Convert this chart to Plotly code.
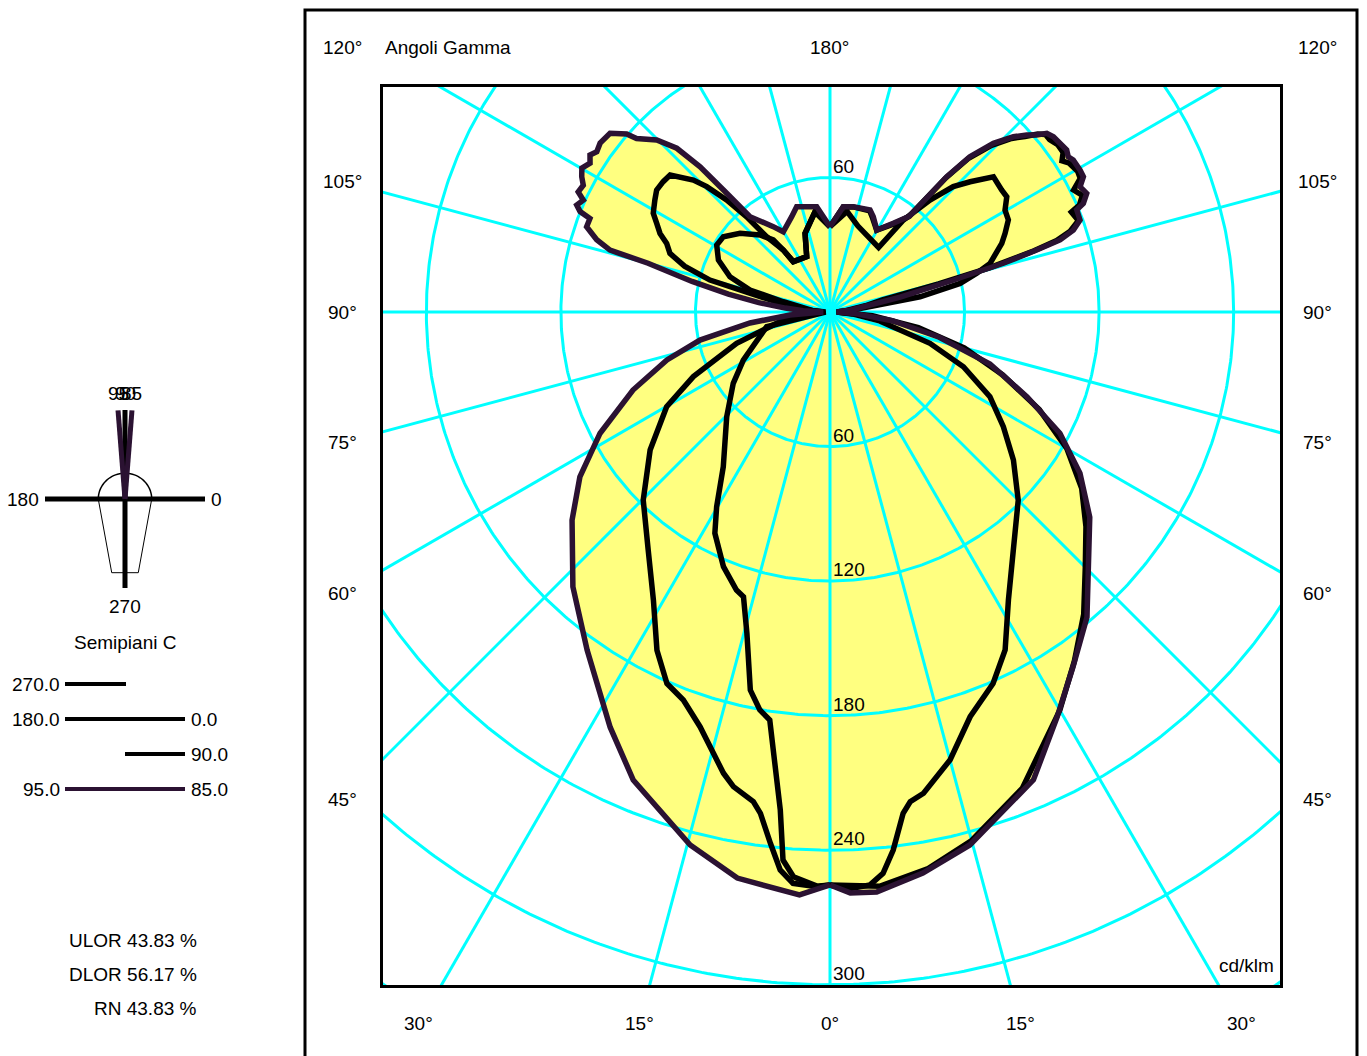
import numpy as np
import plotly.graph_objects as go

# ---------------- data (cd/klm vs gamma angle, per C half-plane) ----------------
c95_gamma = [0, 3, 9.3, 14.7, 22.8, 27.9, 35.7, 43.1, 51.1, 56.6, 62.2, 68.4, 73.6, 77.8, 82.2, 85.7,
             90, 92.5, 95, 97.5, 100, 102.5, 105, 105.7, 107.2, 109.3, 111.3, 111.9, 112.9, 114.4,
             115.5, 117.2, 118.6, 120.1, 121.8, 123.2, 124.5, 126.3, 129.1, 131.2, 131.9, 134.8,
             136.9, 138.2, 139, 140, 146.4, 149.8, 158.1, 162.4, 172.8, 180]
c95_cd = [255.5, 260.3, 255.8, 245.7, 226.4, 209.5, 185.6, 167.8, 147.8, 133.6, 115.9, 94.5, 75.8, 59.3, 36, 17.9,
          3, 12, 20, 32, 46, 63, 84, 101.9, 108.9, 115, 114.9, 120.1, 122.6, 120.8,
          124.4, 123.7, 126.1, 127.9, 125.9, 127.9, 126.2, 127.2, 126.4, 120.5, 115.9, 108.9,
          100, 86.9, 70.2, 55.5, 45.7, 41.4, 45.8, 49.2, 47.3, 38]

c85_gamma = [0, 2, 4.6, 9.4, 14.7, 23.5, 29.3, 34.4, 40.1, 45.3, 51.7, 57.2, 62.2, 66.7, 72, 77, 82, 86,
             90, 95, 100, 102, 104.5, 105.7, 106.7, 107.4, 108.6, 110.2, 112.5, 113.2, 114.8, 116.6,
             118.1, 119.6, 122, 123.1, 124.4, 126.3, 128.1, 129.5, 130.6, 132, 133.7, 135.9, 138,
             139.2, 139.7, 140.3, 144.5, 150.3, 155.6, 158.6, 167.5, 172.8, 180]
c85_cd = [255.5, 259.2, 259.5, 253.6, 245.7, 227.5, 207, 191.8, 177.9, 161.8, 147.6, 132.6, 115.9, 95.7, 75, 50, 28, 12,
          3, 9, 20, 32, 57, 80.3, 96.2, 107.5, 114.5, 118.8, 119.1, 122.9, 126.1, 124.7,
          128.1, 128.2, 127.9, 126.8, 127.9, 127.2, 126.6, 125.3, 121.3, 118, 113.1, 104.7, 93.2,
          79.7, 67.1, 55.5, 48.6, 42.1, 46.7, 48.9, 48.1, 47.3, 38]

c90_gamma = [0, 5, 10, 15, 22, 30, 35, 40, 45, 50, 55, 60, 65, 70, 75, 80, 85,
             90, 95, 100, 103, 104.5, 105.5, 106.7, 107.5, 108.6, 110.2, 112.5, 113.2, 114.8, 116.6,
             118.1, 119.6, 122, 123.1, 124.4, 126.3, 128.1, 129.5, 130.6, 132, 133.7, 135.9, 138,
             139.2, 139.8, 140.5, 144.5, 150.3, 155.6, 158.6, 167.5, 172.8, 180]
c90_cd = [255.5, 257, 252, 244, 229, 205, 190, 176, 161, 149, 137, 122, 103, 82, 62, 40, 19,
          3, 7, 16, 24, 50, 74, 95, 106, 113, 118, 116.5, 121, 124, 121.5,
          126.5, 127, 125.5, 123.5, 126, 126, 124.5, 124.5, 122, 117, 112, 103.5, 92,
          79, 66, 55, 48, 42, 46, 48.5, 48, 47.3, 38]

c0_gamma = [0, 1.7, 4, 5.4, 6.7, 8.3, 9.3, 11, 15, 19.1, 23.7, 27.4, 31.8, 37.6, 45, 51.1, 56.5,
            62.1, 67.7, 72.6, 80, 85, 90, 95, 97.5, 99.6, 102.4, 104.8, 106.9, 109.4, 111.8, 114.2,
            117.3, 120.2, 123.1, 125.4, 127.7, 129.6, 132.9, 135.5, 138.2, 141.4, 143, 151, 162,
            170.4, 180]
c0_cd = [255.5, 257.5, 256.1, 251.4, 241.6, 225.9, 221.3, 218.6, 206.8, 191, 180.9, 169.7, 151, 134, 118.7, 105.1, 92.7,
         80.7, 64.3, 46.7, 22, 10, 3, 10, 18, 40.7, 59.4, 67.7, 74.6, 78.8, 82.5, 85.6,
         89.5, 90.3, 94.1, 93.9, 93.9, 94.6, 85.3, 78.4, 66.9, 52.5, 36, 37, 40.3,
         45.5, 38]

c180_gamma = [0, 1.3, 3.7, 5.1, 6.4, 7.9, 8.9, 11.5, 13, 17.4, 20.7, 23.7, 27.1, 31.5, 37.4, 44.8,
              52.5, 59.9, 64.7, 71.5, 80.3, 85, 90, 95, 100, 102.3, 104.9, 107.5, 110.1, 112.8,
              114.8, 117.1, 119.2, 122.6, 125.1, 128, 130.6, 134, 135.5, 137.3, 138.8, 139.9,
              143, 143.9, 157.2, 162.4, 171.5, 180]
c180_cd = [255.5, 256.4, 255.3, 249.8, 238.4, 225.7, 221, 216, 211.1, 193.8, 185, 180.9, 169.4, 150.7, 133.5, 118.2,
           101.1, 84.2, 67.4, 43.9, 21.1, 10, 3, 10, 22, 32, 55.4, 68, 76, 79,
           83.5, 86.8, 90.3, 92.7, 94.5, 94.4, 93.9, 84.7, 78.4, 68, 56.4, 43.9,
           34.6, 27.8, 26.8, 36.8, 45.2, 38]

c270_gamma = [0, 1.3, 3.7, 4.9, 5.7, 6.5, 7.4, 8.4, 10, 11.9, 14.5, 16.9, 18.6, 22.7, 27.5, 30.2,
              34.6, 44.6, 53.6, 61, 76.9, 90, 95, 100, 102.4, 105.4, 109.4, 115, 120.6, 125.2,
              131.2, 137.7, 141.8, 143, 143.9, 157.2, 162.4, 171.5, 180]
c270_cd = [255.5, 256.1, 252.4, 245.3, 223.2, 210, 197, 183.9, 180.2, 172.3, 148, 132.7, 130.8, 123.1, 111.2, 100.5,
           83.8, 65.6, 53.6, 44.2, 29, 2, 8, 15, 21.3, 37, 47.3, 54.9, 58.7, 58.2,
           53.3, 46.4, 40.9, 34.6, 27.8, 26.8, 36.8, 45.2, 38]

for _g, _v in [(c95_gamma, c95_cd), (c85_gamma, c85_cd), (c90_gamma, c90_cd), (c0_gamma, c0_cd),
               (c180_gamma, c180_cd), (c270_gamma, c270_cd)]:
    if len(_g) != len(_v):
        raise ValueError(f"length mismatch {len(_g)} vs {len(_v)} starting {_g[:3]}")

circle_values = [60, 120, 180, 240, 300, 360]
circle_labels_bottom = [60, 120, 180, 240, 300]
circle_labels_top = [60]
side_gamma_labels = [45, 60, 75, 90, 105, 120]
bottom_gamma_labels = [0, 15, 30]
top_gamma_labels = [180]

icon_planes = [270, 180, 0, 90, 95, 85]
legend_left = ["270.0", "180.0", "", "95.0"]
legend_right = ["", "0.0", "90.0", "85.0"]
ratios = [("ULOR", 43.83), ("DLOR", 56.17), ("RN", 43.83)]

# ---------------- styling / layout ----------------
W, H = 1367, 1056
FONT = "Liberation Sans, Arial, Helvetica, sans-serif"
FS = 19
CYAN = "#00FFFF"
YELLOW = "#FFFF80"
PURPLE = "#2B1232"
BLACK = "#000000"

X0, X1, Y0, Y1 = 383, 1280, 87, 985
CX, CY = 830, 312
S = 2.2425
xr = [(X0 - CX) / S, (X1 - CX) / S]
yr = [(CY - Y1) / S, (CY - Y0) / S]


def pxx(x):
    return x / W


def pxy(y):
    return 1 - y / H


def dx2paper(x):
    return pxx(CX + x * S)


def dy2paper(y):
    return pxy(CY - y * S)


def to_xy(gam, cd, side):
    g = np.radians(np.asarray(gam, dtype=float))
    r = np.asarray(cd, dtype=float)
    return side * r * np.sin(g), -r * np.cos(g)


fig = go.Figure()

# yellow fill: right outer (C85) 0->180, then left outer (C95) 180->0
xr85, yr85 = to_xy(c85_gamma, c85_cd, 1)
xl95, yl95 = to_xy(c95_gamma, c95_cd, -1)
fx = np.concatenate([xr85, xl95[::-1]])
fy = np.concatenate([yr85, yl95[::-1]])
fig.add_trace(go.Scatter(x=fx, y=fy, mode="lines", fill="toself", fillcolor=YELLOW,
                         line=dict(width=0, color=YELLOW), hoverinfo="skip", showlegend=False))

# grid circles
t = np.linspace(0, 2 * np.pi, 721)
gx, gy = [], []
for r in circle_values:
    gx += list(r * np.cos(t)) + [None]
    gy += list(r * np.sin(t)) + [None]
fig.add_trace(go.Scatter(x=gx, y=gy, mode="lines", line=dict(color=CYAN, width=3),
                         hoverinfo="skip", showlegend=False))
# grid rays every 15 degrees
rx, ry = [], []
for a in range(0, 360, 15):
    ar = np.radians(a)
    rx += [0, 1000 * np.sin(ar), None]
    ry += [0, -1000 * np.cos(ar), None]
fig.add_trace(go.Scatter(x=rx, y=ry, mode="lines", line=dict(color=CYAN, width=3),
                         hoverinfo="skip", showlegend=False))

# photometric curves
curves = [
    (c270_gamma, c270_cd, -1, BLACK),
    (c180_gamma, c180_cd, -1, BLACK),
    (c0_gamma, c0_cd, 1, BLACK),
    (c90_gamma, c90_cd, 1, BLACK),
    (c95_gamma, c95_cd, -1, PURPLE),
    (c85_gamma, c85_cd, 1, PURPLE),
]
for gam, cd, side, col in curves:
    x, y = to_xy(gam, cd, side)
    fig.add_trace(go.Scatter(x=x, y=y, mode="lines", line=dict(color=col, width=5.5),
                             hoverinfo="skip", showlegend=False))

annotations = []


def ann(text, x, y, xref="paper", yref="paper", xanchor="center", yanchor="middle", xshift=0, yshift=0):
    annotations.append(dict(text=text, x=x, y=y, xref=xref, yref=yref, xanchor=xanchor,
                            yanchor=yanchor, showarrow=False, xshift=xshift, yshift=yshift,
                            font=dict(family=FONT, size=FS, color="black")))


# circle labels (inside the plot)
for r in circle_labels_bottom:
    ann(str(r), 0.5, -r + 5, "x", "y", xanchor="left")
for r in circle_labels_top:
    ann(str(r), 0.5, r + 5, "x", "y", xanchor="left")

# gamma labels around the diagram (outside the axes -> paper coordinates)
LX = 217.5
TOPY = (CY - 48) / S
BOTY = (CY - 1024) / S
for g in side_gamma_labels:
    gr = np.radians(g)
    y = min(-LX * np.cos(gr) / np.sin(gr), TOPY)
    ann(f"{g}°", dx2paper(-LX), dy2paper(y))
    ann(f"{g}°", dx2paper(LX), dy2paper(y))
for g in bottom_gamma_labels:
    x = -BOTY * np.tan(np.radians(g))
    ann(f"{g}°", dx2paper(x), dy2paper(BOTY))
    if g != 0:
        ann(f"{g}°", dx2paper(-x), dy2paper(BOTY))
for g in top_gamma_labels:
    ann(f"{g}°", dx2paper(0), dy2paper(TOPY))
ann("Angoli Gamma", dx2paper(xr[0]), dy2paper(TOPY), xanchor="left")
ann("cd/klm", xr[1] - 2, (CY - 965) / S, "x", "y", xanchor="right")

# ---------------- C half-plane icon (own axes) ----------------
for col_sel in (BLACK, PURPLE):
    for c in icon_planes:
        col = PURPLE if c in (85, 95) else BLACK
        if col != col_sel:
            continue
        cr = np.radians(c)
        fig.add_trace(go.Scatter(x=[0, np.cos(cr)], y=[0, np.sin(cr)], mode="lines",
                                 line=dict(color=col, width=5), xaxis="x2", yaxis="y2",
                                 hoverinfo="skip", showlegend=False))
for c in icon_planes:
    cr = np.radians(c)
    ex, ey = np.cos(cr), np.sin(cr)
    if c == 0:
        ann(str(c), ex, ey, "x2", "y2", xanchor="left", xshift=4)
    elif c == 180:
        ann(str(c), ex, ey, "x2", "y2", xanchor="right", xshift=-4)
    elif c == 270:
        ann(str(c), ex, ey, "x2", "y2", yanchor="top", yshift=-6)
    else:
        ann(str(c), ex, ey, "x2", "y2", yanchor="bottom", yshift=4)

shapes = []
# luminaire sketch in icon axes
th = np.linspace(0, np.pi, 40)
arc = "M " + " L ".join(f"{0.334*np.cos(a):.4f},{0.29*np.sin(a):.4f}" for a in th)
shapes.append(dict(type="path", path=arc, xref="x2", yref="y2", layer="below",
                   line=dict(color="black", width=1.5)))
shapes.append(dict(type="path", path="M -0.334,0 L -0.166,-0.828 L 0.166,-0.828 L 0.334,0",
                   xref="x2", yref="y2", layer="below", line=dict(color="black", width=1)))

ann("Semipiani C", pxx(125), pxy(642))

# legend block
leg_rows_y = [684, 719, 754, 789]
for i, (lt, rt) in enumerate(zip(legend_left, legend_right)):
    y = leg_rows_y[i]
    col = PURPLE if i == 3 else BLACK
    xa = 65 if lt else 125
    xb = 185 if rt else 126
    shapes.append(dict(type="line", xref="paper", yref="paper", x0=pxx(xa), x1=pxx(xb),
                       y0=pxy(y), y1=pxy(y), line=dict(color=col, width=4)))
    if lt:
        ann(lt, pxx(62), pxy(y), xanchor="right")
    if rt:
        ann(rt, pxx(189), pxy(y), xanchor="left")

for i, (name, v) in enumerate(ratios):
    ann(f"{name} {v:.2f} %", pxx(199), pxy(940 + i * 34), xanchor="right")

# outer frame
shapes.append(dict(type="rect", xref="paper", yref="paper", x0=pxx(305), x1=pxx(1357),
                   y0=-0.05, y1=pxy(10), line=dict(color="black", width=3)))

fig.update_layout(
    width=W, height=H, margin=dict(l=0, r=0, t=0, b=0),
    paper_bgcolor="white", plot_bgcolor="white", showlegend=False,
    xaxis=dict(domain=[pxx(X0), pxx(X1)], range=xr, showgrid=False, zeroline=False,
               showticklabels=False, ticks="", showline=True, mirror=True,
               linecolor="black", linewidth=2.5, fixedrange=True),
    yaxis=dict(domain=[pxy(Y1), pxy(Y0)], range=yr, showgrid=False, zeroline=False,
               showticklabels=False, ticks="", showline=True, mirror=True,
               linecolor="black", linewidth=2.5, fixedrange=True),
    xaxis2=dict(domain=[pxx(25), pxx(225)], range=[-1.25, 1.25], visible=False,
                anchor="y2", fixedrange=True),
    yaxis2=dict(domain=[pxy(499 + 133.5), pxy(499 - 133.5)], range=[-1.5, 1.5], visible=False,
                anchor="x2", fixedrange=True),
    annotations=annotations,
    shapes=shapes,
)

fig.write_html("out.html", config={"displayModeBar": False},
               post_script="document.body.style.margin='0';document.body.style.overflow='hidden';")
